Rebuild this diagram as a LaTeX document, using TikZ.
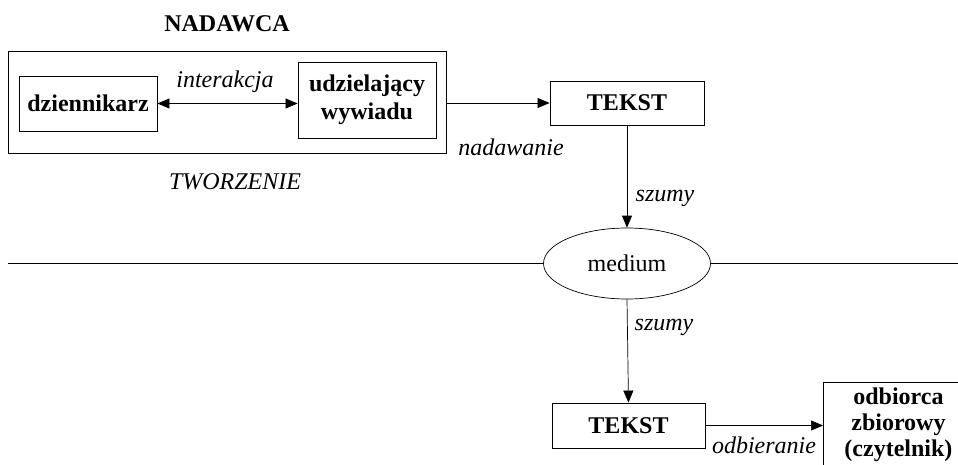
\documentclass[tikz,border=0pt]{standalone}
\usepackage{fontspec}
\setmainfont{Liberation Serif}
\usetikzlibrary{shapes.geometric}
\usetikzlibrary{positioning,arrows.meta}

\begin{document}
\begin{tikzpicture}[x=1pt,y=-1pt,font=\fontsize{24}{28}\selectfont]

\tikzstyle{box}=[draw,line width=0.9pt,inner sep=0pt,align=center,font=\fontsize{24}{28}\selectfont\bfseries]
\tikzstyle{lbl}=[font=\fontsize{24}{28}\selectfont\itshape]
\tikzstyle{flow}=[line width=0.7pt,-{Triangle[length=12pt,width=10pt]}]

\useasboundingbox (0,0) rectangle (958,464);
\clip (0,0) rectangle (958,464);

%sender side
\node (sender) [draw,line width=0.7pt,minimum width=438pt,minimum height=102pt] at (227,102) {};
\node (nadawca) [font=\fontsize{24}{28}\selectfont\bfseries] at (227,24) {NADAWCA};
\node (dzien) [box,minimum width=138pt,minimum height=55pt] at (88,103.5) {dziennikarz};
\node (udziel) [box,minimum width=138pt,minimum height=76pt] at (367,100) {udzielający\\wywiadu};
\draw[flow,{Triangle[length=12pt,width=10pt]}-{Triangle[length=12pt,width=10pt]}] (dzien.east) -- (dzien.east -| udziel.west);
\node (interakcja) [lbl] at (225,82) {interakcja};
\node (tworzenie) [lbl] at (235,182) {TWORZENIE};

\node (tekst1) [box,minimum width=154pt,minimum height=44pt] at (627,103) {TEKST};
\draw[flow] (sender.east |- tekst1.west) -- (tekst1.west);
\node (nadawanie) [lbl] at (511,147) {nadawanie};

%medium and the line
\node (medium) [draw,ellipse,line width=0.7pt,minimum width=167pt,minimum height=71pt,inner sep=0pt] at (627,263.5) {medium};
\draw[flow] (tekst1.south) -- (medium.north);
\node (szumy1) [lbl] at (665,198) {szumy};
\coordinate (lineL) at (8,263.5);
\coordinate (lineR) at (958,263.5);
\draw[line width=0.7pt] (lineL) -- (medium.west);
\draw[line width=0.7pt] (medium.east) -- (lineR);

%receiver side
\node (tekst2) [box,minimum width=153pt,minimum height=45pt] at (628.5,425.5) {TEKST};
\draw[flow] (medium.south) -- (tekst2.north);
\node (szumy2) [lbl] at (664,327) {szumy};
\node (odbiorca) [box,anchor=north west,minimum width=150pt,inner ysep=5pt,font=\fontsize{24}{26}\selectfont\bfseries] at (823,382) {odbiorca\\zbiorowy\\(czytelnik)};
\draw[flow] (tekst2.east) -- (tekst2.east -| odbiorca.west);
\node (odbieranie) [lbl] at (764,445) {odbieranie};

\end{tikzpicture}
\end{document}
